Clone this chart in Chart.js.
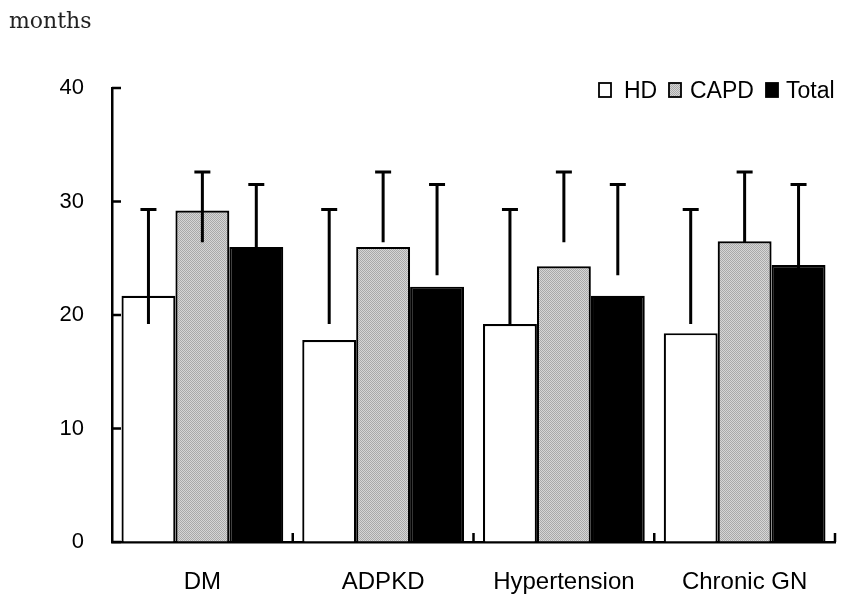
<!DOCTYPE html>
<html>
<head>
<meta charset="utf-8">
<script src="https://cdn.jsdelivr.net/npm/chart.js@4.4.1/dist/chart.umd.min.js"></script>
<style>
  html, body { margin: 0; padding: 0; background: #fff; }
  #chart { display: block; }
</style>
</head>
<body>
<canvas id="chart" width="849" height="597"></canvas>
<script>
/* ── Data ─────────────────────────────────────────────── */
const categories  = ['DM', 'ADPKD', 'Hypertension', 'Chronic GN'];
const seriesNames = ['HD', 'CAPD', 'Total'];
const hdValues    = [21.7, 17.8, 19.2, 18.4];
const capdValues  = [29.2, 26.0, 24.3, 26.5];
const totalValues = [26.0, 22.5, 21.7, 24.4];
// whiskers: low end and capped top
const hdErrLow    = [19.2, 19.2, 19.2, 19.2];
const hdErrHigh   = [29.3, 29.3, 29.3, 29.3];
const capdErrLow  = [26.4, 26.4, 26.4, 26.4];
const capdErrHigh = [32.6, 32.6, 32.6, 32.6];
const totErrLow   = [23.5, 23.5, 23.5, 23.5];
const totErrHigh  = [31.5, 31.5, 31.5, 31.5];
const yTicks      = [0, 10, 20, 30, 40];
const unitLabel   = 'months';

const FONT = "'Liberation Sans', Arial, sans-serif";
const canvas = document.getElementById('chart');
const ctx0   = canvas.getContext('2d');

/* ── Dotted grey fill for CAPD ──────────────────────────── */
function dotPattern() {
  const c = document.createElement('canvas');
  c.width = 2; c.height = 2;
  const g = c.getContext('2d');
  g.fillStyle = '#d6d6d6'; g.fillRect(0, 0, 2, 2);
  g.fillStyle = '#a9a9a9'; g.fillRect(0, 0, 1, 1); g.fillRect(1, 1, 1, 1);
  return ctx0.createPattern(c, 'repeat');
}
const capdFill = dotPattern();
const fills    = ['#ffffff', capdFill, '#000000'];
const errors   = [[hdErrLow, hdErrHigh], [capdErrLow, capdErrHigh], [totErrLow, totErrHigh]];

/* ── Extras: error bars, inward ticks, legend, unit ─────── */
const extras = {
  id: 'extras',
  afterDatasetsDraw(chart) {
    const { ctx, scales: { y } } = chart;
    ctx.save();
    ctx.strokeStyle = '#000';
    ctx.lineWidth = 3;
    errors.forEach(([lo, hi], d) => {
      chart.getDatasetMeta(d).data.forEach((bar, i) => {
        const yl = y.getPixelForValue(lo[i]);
        const yh = y.getPixelForValue(hi[i]);
        ctx.beginPath();
        ctx.moveTo(bar.x, yl); ctx.lineTo(bar.x, yh);
        ctx.moveTo(bar.x - 8, yh); ctx.lineTo(bar.x + 8, yh);
        ctx.stroke();
      });
    });
    ctx.restore();
  },
  afterDraw(chart) {
    const { ctx, chartArea: a, scales: { y } } = chart;
    ctx.save();
    ctx.strokeStyle = '#000';
    ctx.lineWidth = 2.5;
    ctx.beginPath();
    yTicks.forEach(v => {
      const py = y.getPixelForValue(v);
      ctx.moveTo(a.left, py); ctx.lineTo(a.left + 9, py);
    });
    const step = (a.right - a.left) / categories.length;
    for (let i = 1; i <= categories.length; i++) {
      const px = a.left + i * step;
      ctx.moveTo(px, a.bottom); ctx.lineTo(px, a.bottom - 9);
    }
    ctx.stroke();

    // legend
    const items = [
      { box: 599, text: 624 },
      { box: 669, text: 690 },
      { box: 766, text: 786 }
    ];
    ctx.font = `23px ${FONT}`;
    ctx.textBaseline = 'alphabetic';
    items.forEach((it, i) => {
      ctx.fillStyle = fills[i];
      ctx.fillRect(it.box, 83, 12, 14);
      ctx.lineWidth = 1.8;
      ctx.strokeRect(it.box, 83, 12, 14);
      ctx.fillStyle = '#000';
      ctx.fillText(seriesNames[i], it.text, 98);
    });

    // unit label
    ctx.font = "22px 'DejaVu Serif', serif";
    ctx.fillStyle = '#222';
    ctx.fillText(unitLabel, 9, 28);
    ctx.restore();
  }
};

/* ── Chart ──────────────────────────────────────────────── */
new Chart(canvas, {
  type: 'bar',
  data: {
    labels: categories,
    datasets: [hdValues, capdValues, totalValues].map((vals, i) => ({
      label: seriesNames[i],
      data: vals,
      backgroundColor: fills[i],
      borderColor: '#000',
      borderWidth: 2.2,
      barPercentage: 1,
      categoryPercentage: 0.895
    }))
  },
  plugins: [extras],
  options: {
    responsive: false,
    animation: false,
    layout: { padding: { top: 88, right: 14, left: 0, bottom: 0 } },
    plugins: {
      legend: { display: false },
      tooltip: { enabled: false }
    },
    scales: {
      x: {
        grid: { drawOnChartArea: false, drawTicks: false },
        border: { color: '#000', width: 2.5 },
        ticks: { font: { size: 24, family: FONT }, color: '#000', padding: 26 },
        afterFit: s => { s.height = 55; }
      },
      y: {
        min: 0,
        max: 40,
        grid: { drawOnChartArea: false, drawTicks: false },
        border: { color: '#000', width: 2.5 },
        ticks: {
          stepSize: 10,
          font: { size: 22, family: FONT },
          color: '#000',
          padding: 28
        },
        afterFit: s => { s.width = 112; }
      }
    }
  }
});
</script>
</body>
</html>
